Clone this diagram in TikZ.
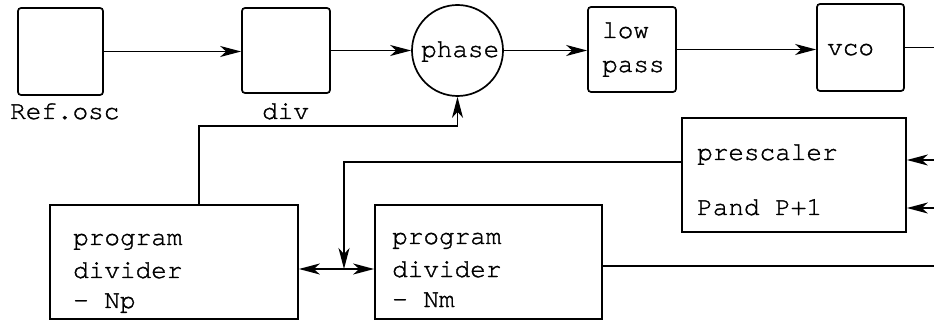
\documentclass[tikz,border=0pt]{standalone}
\usepackage{fontspec}
\setmonofont[FakeBold=1.2]{TeX Gyre Cursor}
\usetikzlibrary{arrows.meta,calc}
\tikzset{
  blk/.style={draw, line width=1.7pt, rounded corners=3pt, inner sep=0pt},
  sqblk/.style={draw, line width=1.7pt, inner sep=0pt},
  txt/.style={inner sep=0pt, anchor=base west, font=\ttfamily\fontsize{26pt}{32pt}\selectfont},
  wire/.style={line width=1.6pt},
  tip/.style={Stealth[length=21pt, width=11pt, inset=6pt]},
  arr/.style={wire, -{Stealth[length=21pt, width=11pt, inset=6pt]}},
  darr/.style={wire, {Stealth[length=21pt, width=11pt, inset=6pt]}-{Stealth[length=21pt, width=11pt, inset=6pt]}}
}
\begin{document}
\begin{tikzpicture}[x=1pt,y=-1pt]
\useasboundingbox (0,0) rectangle (934,320);
% blocks
\node[blk, minimum width=85pt, minimum height=87pt] (ref) at (60.5,51.5) {};
\node[blk, minimum width=88pt, minimum height=85pt] (div) at (286,50.5) {};
\node[draw, line width=1.7pt, circle, minimum size=91pt, inner sep=0pt] (phase) at (457.5,50.5) {};
\node[blk, minimum width=88pt, minimum height=85pt] (lp) at (632,49.5) {};
\node[blk, minimum width=87pt, minimum height=87pt] (vco) at (860.5,47.5) {};
\node[sqblk, minimum width=224pt, minimum height=114pt] (pre) at (794,175) {};
\node[sqblk, minimum width=248pt, minimum height=114pt] (np) at (174,262) {};
\node[sqblk, minimum width=227pt, minimum height=114pt] (nm) at (488.5,262) {};
% texts
\node[txt] (tref) at (10,119) {Ref.osc};
\node[txt] (tdiv) at (262,119) {div};
\node[txt] (tph) at (421,57) {phase};
\node[txt] (tlow) at (602,38) {low};
\node[txt] (tpass) at (602,72) {pass};
\node[txt] (tvco) at (827,55) {vco};
\node[txt] (tpre) at (697,160) {prescaler};
\node[txt] (tpand) at (697,215) {Pand P+1};
\node[txt] (tnp1) at (73,245) {program};
\node[txt] (tnp2) at (73,278) {divider};
\node[txt] (tnp3) at (73,308) {- Np};
\node[txt] (tnm1) at (392,244) {program};
\node[txt] (tnm2) at (392,277) {divider};
\node[txt] (tnm3) at (392,307) {- Nm};
% free ends
\coordinate (vout) at (934,47.5);
\coordinate (pin1) at (934,160);
\coordinate (pin2) at (934,208);
\coordinate (nout) at (934,266);
\coordinate (j) at (344,269);
% connectors
\draw[arr] (ref.east) -- (ref.east -| div.west);
\draw[arr] (div.east) -- (div.east -| phase.west);
\draw[arr] (phase.east) -- (phase.east -| lp.west);
\draw[arr] (lp.east) -- (lp.east -| vco.west);
\draw[wire] (vco.east) -- (vout);
\draw[arr] ([xshift=25pt]np.north) |- ($(phase.south)+(0,29)$) -- (phase.south);
\draw[darr] (np.east |- j) -- (nm.west |- j);
\draw[arr] (pre.west |- 0,162) -| (j);
\draw[arr] (pin1) -- (pin1 -| pre.east);
\draw[arr] (pin2) -- (pin2 -| pre.east);
\draw[wire] (nm.east |- nout) -- (nout);
\end{tikzpicture}
\end{document}
